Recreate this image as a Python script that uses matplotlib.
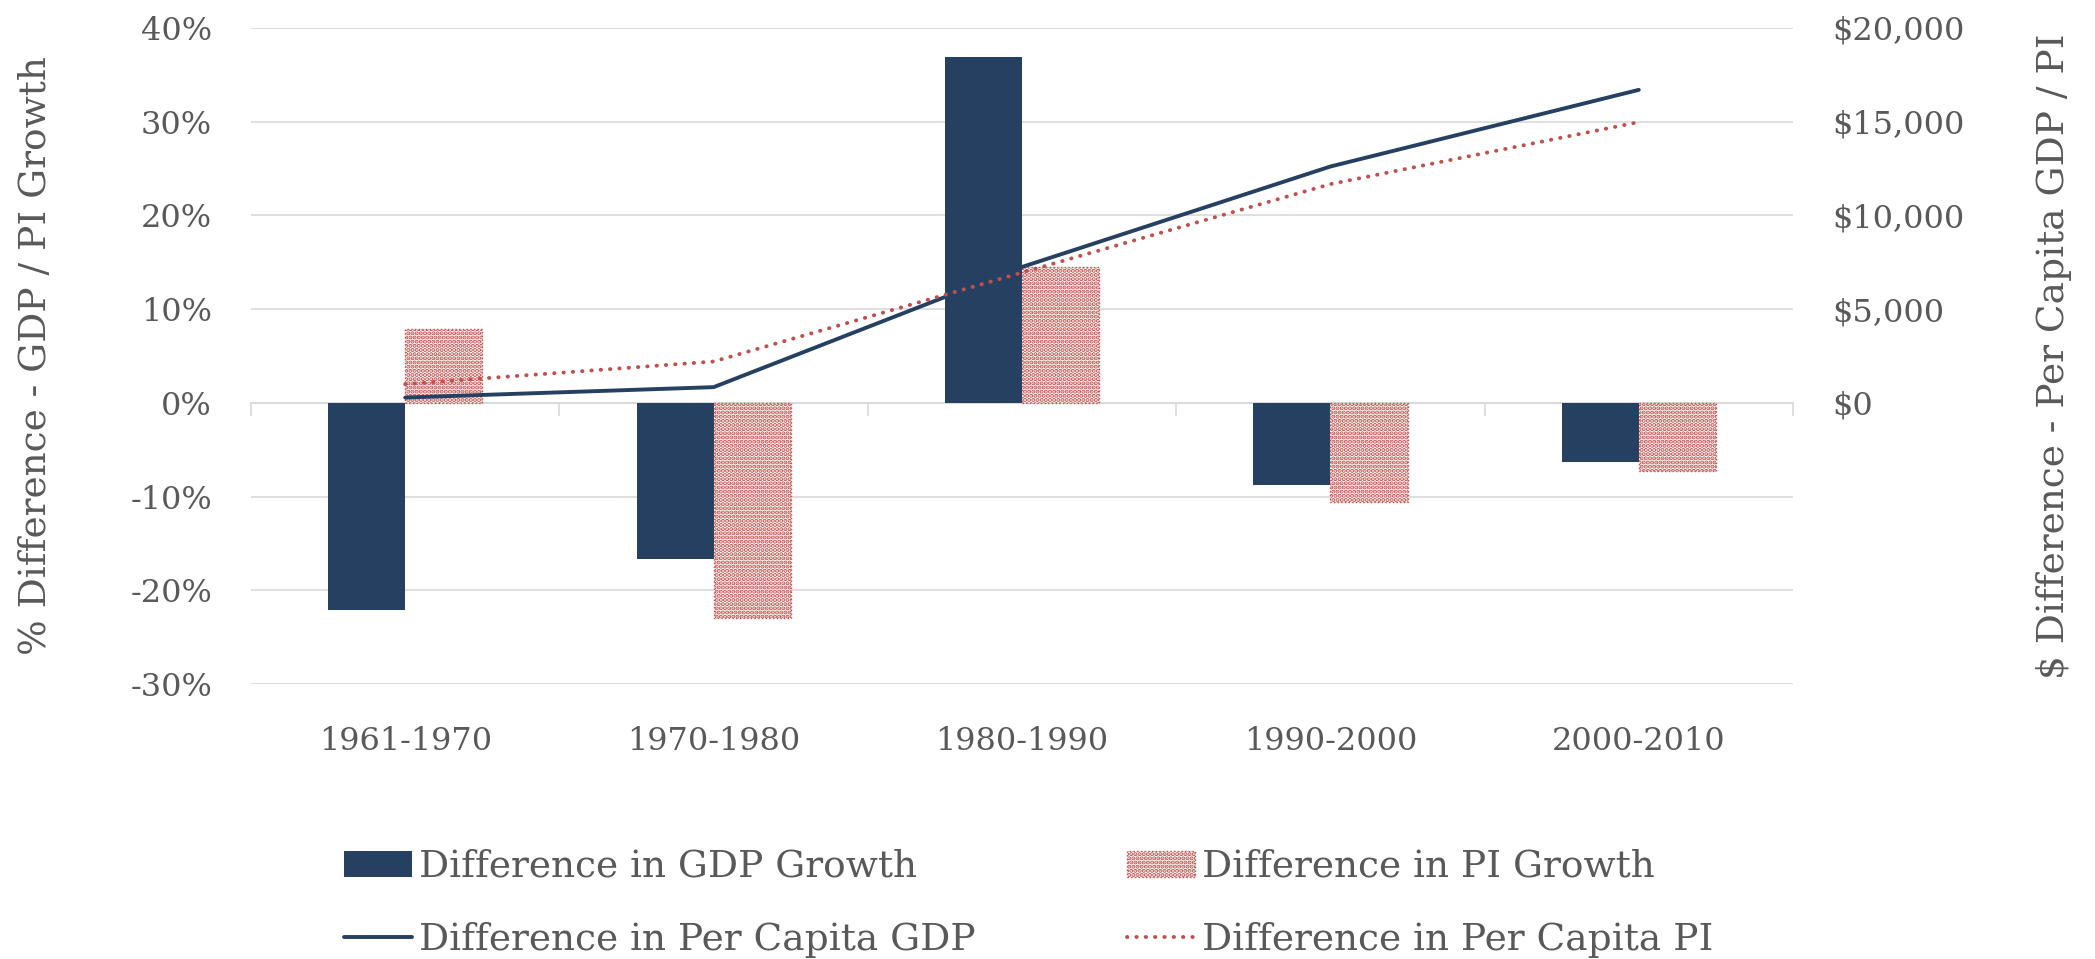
import matplotlib
matplotlib.use('Agg')
import matplotlib.pyplot as plt
import numpy as np
from matplotlib.ticker import FuncFormatter, FixedLocator

# values
periods = ['1961-1970', '1970-1980', '1980-1990', '1990-2000', '2000-2010']
gdp_growth_diff = [-0.2206, -0.1665, 0.369, -0.0872, -0.0630]
pi_growth_diff = [0.0787, -0.2292, 0.1455, -0.1053, -0.0726]
per_capita_gdp_diff = [283, 838, 7250, 12610, 16700]
per_capita_pi_diff = [1000, 2205, 6950, 11670, 14980]

navy = '#264061'
red = '#C0504D'
txt = '#595959'
grid_col = '#D9D9D9'

plt.rcParams['font.family'] = ['DejaVu Serif']
plt.rcParams['hatch.linewidth'] = 2.1
fs = 23
fs_big = 27

fig = plt.figure(figsize=(20.95, 9.59), dpi=100)
ax = fig.add_axes([251 / 2095, 1 - 684 / 959, (1793 - 251) / 2095, (684 - 28) / 959])

x = np.arange(len(periods))
w = 0.25

ax.bar(x - w / 2, gdp_growth_diff, w, color=navy, label='Difference in GDP Growth', zorder=2)
ax.bar(x + w / 2, pi_growth_diff, w, facecolor='white', edgecolor=red, hatch='....',
       linewidth=1, linestyle=':', label='Difference in PI Growth', zorder=2)

ax.set_xlim(-0.5, len(periods) - 0.5)
ax.set_ylim(-0.3, 0.4)
ax.set_yticks(np.arange(-0.3, 0.41, 0.1))
ax.yaxis.set_major_formatter(FuncFormatter(lambda v, p: f'{v * 100:.0f}%'))
ax.yaxis.grid(True, color=grid_col, linewidth=1.2)
ax.set_axisbelow(True)
ax.set_xticks(x)
ax.set_xticklabels(periods)
ax.tick_params(axis='x', length=0, pad=30, labelsize=fs, labelcolor=txt)
ax.tick_params(axis='y', length=0, pad=28, labelsize=fs, labelcolor=txt)
for s in ax.spines.values():
    s.set_visible(False)
ax.set_ylabel('% Difference - GDP / PI Growth', fontsize=fs_big, color=txt, labelpad=55)

# category axis drawn at the zero line
zero_axis = ax.secondary_xaxis(0.3 / 0.7)
zero_axis.xaxis.set_major_locator(FixedLocator(np.arange(-0.5, len(periods), 1.0)))
zero_axis.tick_params(axis='x', direction='out', length=9, width=1.2, color=grid_col, labelbottom=False)
zero_axis.spines['bottom'].set_color(grid_col)
zero_axis.spines['bottom'].set_linewidth(1.2)

ax2 = ax.twinx()
ax2.plot(x, per_capita_gdp_diff, color=navy, linewidth=2.8, label='Difference in Per Capita GDP',
         solid_capstyle='round')
ax2.plot(x, per_capita_pi_diff, color=red, linewidth=2.8, linestyle=(0, (0.1, 2.3)),
         dash_capstyle='round', label='Difference in Per Capita PI')
ax2.set_ylim(-15000, 20000)
ax2.set_yticks(np.arange(0, 20001, 5000))
ax2.yaxis.set_major_formatter(FuncFormatter(lambda v, p: f'${v:,.0f}'))
ax2.tick_params(axis='y', length=0, pad=28, labelsize=fs, labelcolor=txt)
for s in ax2.spines.values():
    s.set_visible(False)
ax2.set_ylabel('$ Difference - Per Capita GDP / PI', fontsize=fs_big, color=txt, labelpad=52)

h1, l1 = ax.get_legend_handles_labels()
h2, l2 = ax2.get_legend_handles_labels()
handles = [h1[0], h2[0], h1[1], h2[1]]
labels = [l1[0], l2[0], l1[1], l2[1]]
leg = fig.legend(handles, labels, ncol=2, loc='center', bbox_to_anchor=(0.491, 0.058),
                 frameon=False, fontsize=fs_big, handlelength=1.81, handletextpad=0.19,
                 columnspacing=4.05, labelspacing=0.99)
for t in leg.get_texts():
    t.set_color(txt)

fig.savefig('out.png', dpi=100)
